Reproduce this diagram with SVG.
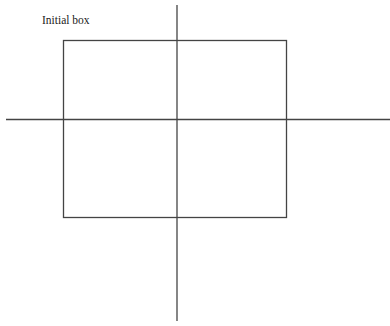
<svg xmlns="http://www.w3.org/2000/svg" width="390" height="326" viewBox="0 0 390 326">
<style>
.ln{stroke:#444;stroke-width:1.3;fill:none}
.lbl{font-family:"Liberation Serif",serif;font-size:11.5px;fill:#222}
</style>
<rect width="390" height="326" fill="#fff"/>
<g id="box"><rect class="ln" x="63.5" y="40.5" width="223" height="177"/></g>
<g id="label"><text class="lbl" x="42" y="24">Initial box</text></g>
<g id="connectors">
<line class="ln" x1="177" y1="5" x2="177" y2="321"/>
<line class="ln" x1="6" y1="119.5" x2="390" y2="119.5"/>
</g>
</svg>
